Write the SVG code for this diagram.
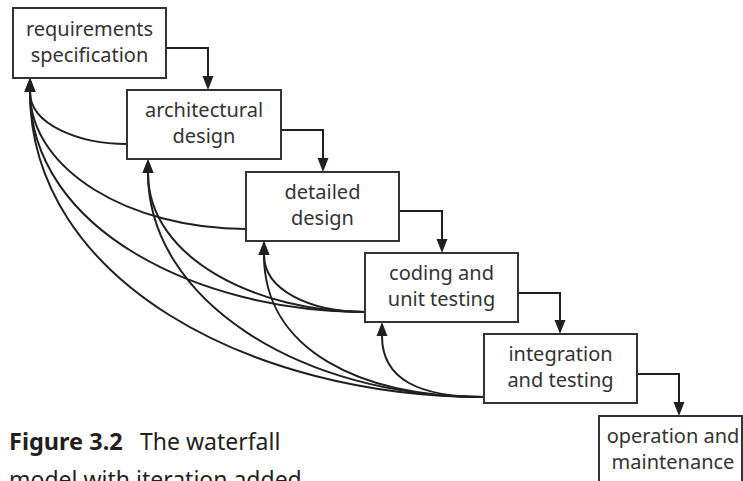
<svg xmlns="http://www.w3.org/2000/svg" width="743" height="481" viewBox="0 0 743 481">
<defs>
<style>
.box{fill:#ffffff;stroke:#333333;stroke-width:2}
.lbl{font-family:"Noto Sans","DejaVu Sans",sans-serif;font-size:20px;fill:#333333;text-anchor:middle}
.con{fill:none;stroke:#231f20;stroke-width:2}
.cap{font-family:"Noto Sans","DejaVu Sans",sans-serif;font-size:23px;fill:#231f20}
</style>
<marker id="ah" markerUnits="userSpaceOnUse" markerWidth="16" markerHeight="14" viewBox="0 -7 16 14" refX="0" refY="0" orient="auto">
<path d="M0,-5.5 L14,0 L0,5.5 Z" fill="#231f20"/>
</marker>
</defs>
<rect width="743" height="481" fill="#ffffff"/>
<g id="connectors">
<path class="con" d="M166,48 H208 V76" marker-end="url(#ah)"/>
<path class="con" d="M281,130 H323 V158" marker-end="url(#ah)"/>
<path class="con" d="M399,211 H442 V239" marker-end="url(#ah)"/>
<path class="con" d="M518,293 H560 V320" marker-end="url(#ah)"/>
<path class="con" d="M637,374 H679 V402" marker-end="url(#ah)"/>
<path class="con" d="M127,144 C80,144 30,125 30,92" marker-end="url(#ah)"/>
<path class="con" d="M246,229 C130,229 30,170 30,92" marker-end="url(#ah)"/>
<path class="con" d="M365,312 C200,312 30,230 30,92" marker-end="url(#ah)"/>
<path class="con" d="M484,397 C250,397 30,280 30,92" marker-end="url(#ah)"/>
<path class="con" d="M365,312 C260,312 148,260 148,173" marker-end="url(#ah)"/>
<path class="con" d="M484,397 C300,397 148,300 148,173" marker-end="url(#ah)"/>
<path class="con" d="M365,312 C310,312 264,290 264,255" marker-end="url(#ah)"/>
<path class="con" d="M484,397 C360,397 264,350 264,255" marker-end="url(#ah)"/>
<path class="con" d="M484,397 C420,397 382,380 382,336" marker-end="url(#ah)"/>
</g>
<g id="requirements">
<rect class="box" x="13" y="8" width="153" height="70"/>
<text class="lbl" x="89.5" y="35.5">requirements</text>
<text class="lbl" x="89.5" y="61.5">specification</text>
</g>
<g id="architectural">
<rect class="box" x="127" y="90" width="154" height="69"/>
<text class="lbl" x="204" y="117">architectural</text>
<text class="lbl" x="204" y="143">design</text>
</g>
<g id="detailed">
<rect class="box" x="246" y="172" width="153" height="69"/>
<text class="lbl" x="322.5" y="199">detailed</text>
<text class="lbl" x="322.5" y="225">design</text>
</g>
<g id="coding">
<rect class="box" x="365" y="253" width="153" height="69"/>
<text class="lbl" x="441.5" y="280">coding and</text>
<text class="lbl" x="441.5" y="306">unit testing</text>
</g>
<g id="integration">
<rect class="box" x="484" y="334" width="153" height="69"/>
<text class="lbl" x="560.5" y="361">integration</text>
<text class="lbl" x="560.5" y="387">and testing</text>
</g>
<g id="operation">
<rect class="box" x="599" y="416" width="143" height="80"/>
<text class="lbl" x="673" y="443">operation and</text>
<text class="lbl" x="673" y="469">maintenance</text>
</g>
<g id="caption">
<text class="cap" x="9" y="450"><tspan font-weight="bold" font-size="23.5px">Figure 3.2</tspan><tspan x="140">The waterfall</tspan></text>
<text class="cap" x="9" y="488">model with iteration added</text>
</g>
</svg>
